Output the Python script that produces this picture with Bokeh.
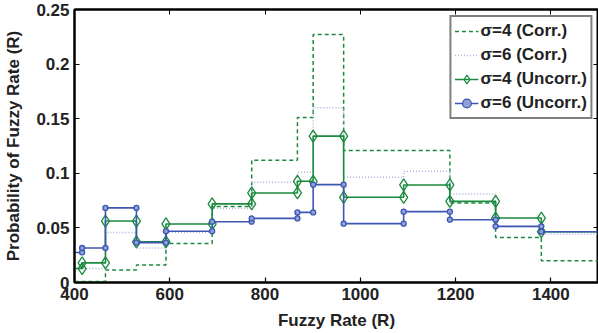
from bokeh.plotting import figure
from bokeh.models import (LinearAxis, FixedTicker, CustomJSTickFormatter, Legend, LegendItem, Range1d)
from bokeh.embed import file_html
from bokeh.resources import INLINE

# Bin edges (Fuzzy Rate, R) where each series steps
edges = [416, 465, 530, 592, 689, 772, 868, 901, 965, 1091, 1188, 1284, 1380]

# Probability values per interval (one more than edges): left of first edge ... right of last edge
s4_corr = [0.001, 0.001, 0.0114, 0.016, 0.0358, 0.0695, 0.112, 0.151, 0.227, 0.1208, 0.1208, 0.0728, 0.0413, 0.0199]
s6_corr = [0.0128, 0.0128, 0.0459, 0.0316, 0.046, 0.068, 0.0917, 0.101, 0.160, 0.0963, 0.1018, 0.081, 0.051, 0.0444]
s4_uncorr = [0.0128, 0.018, 0.0563, 0.0373, 0.0536, 0.072, 0.082, 0.0927, 0.134, 0.078, 0.0893, 0.0743, 0.059, 0.0465]
s6_uncorr = [0.0275, 0.0316, 0.0683, 0.0365, 0.047, 0.0557, 0.0587, 0.0642, 0.0896, 0.0539, 0.0649, 0.0575, 0.0514, 0.0465]

x_ticks = [400, 600, 800, 1000, 1200, 1400]
y_ticks = [0, 0.05, 0.1, 0.15, 0.2, 0.25]
X_MIN, X_MAX = 400, 1500
Y_MIN, Y_MAX = 0, 0.25

GREEN = "#1b8a3e"
BLUE = "#3d56b2"
LAV = "#aab2de"
FONT = "Liberation Sans"

p = figure(width=598, height=333, output_backend="svg", toolbar_location=None,
           x_range=Range1d(X_MIN, X_MAX), y_range=Range1d(Y_MIN, Y_MAX),
           min_border_left=74, min_border_right=0, min_border_top=9, min_border_bottom=51)
p.grid.visible = False
p.outline_line_color = "black"
p.outline_line_width = 2
p.background_fill_color = "white"
p.border_fill_color = "white"


def step_xy(vals):
    xs = [X_MIN] + edges + [X_MAX]
    ys = list(vals) + [vals[-1]]
    return xs, ys


def marker_xy(vals):
    mx, my = [], []
    for i, e in enumerate(edges):
        mx += [e, e]
        my += [vals[i], vals[i + 1]]
    return mx, my


xs, ys = step_xy(s4_corr)
r1 = p.step(xs, ys, mode="after", line_color=GREEN, line_width=1.5, line_dash="4 3")
xs, ys = step_xy(s6_corr)
r2 = p.step(xs, ys, mode="after", line_color=LAV, line_width=1.5, line_dash="1 2")
xs, ys = step_xy(s4_uncorr)
r3 = p.step(xs, ys, mode="after", line_color=GREEN, line_width=1.6)
mx, my = marker_xy(s4_uncorr)
r3m = p.scatter(mx, my, marker="diamond", size=12, line_color=GREEN, line_width=1.3, fill_color=None)
xs, ys = step_xy(s6_uncorr)
r4 = p.step(xs, ys, mode="after", line_color=BLUE, line_width=1.6)
mx, my = marker_xy(s6_uncorr)
r4m = p.scatter(mx, my, marker="circle", size=5, line_color=BLUE, line_width=1.3, fill_color="#8fa0d8")

for ax in (p.xaxis[0], p.yaxis[0]):
    ax.axis_line_width = 2
    ax.axis_line_color = "black"
    ax.major_tick_in = 5
    ax.major_tick_out = 0
    ax.major_tick_line_width = 1.2
    ax.minor_tick_line_color = None
    ax.major_label_text_font = FONT
    ax.major_label_text_font_style = "bold"
    ax.major_label_text_font_size = "17px"
    ax.major_label_text_color = "#222222"
    ax.axis_label_text_font = FONT
    ax.axis_label_text_font_style = "bold"
    ax.axis_label_text_font_size = "17px"
    ax.axis_label_text_color = "#222222"

p.xaxis[0].ticker = FixedTicker(ticks=x_ticks)
p.yaxis[0].ticker = FixedTicker(ticks=y_ticks)
p.yaxis[0].formatter = CustomJSTickFormatter(code="return String(Math.round(tick*100)/100);")
p.xaxis[0].axis_label = "Fuzzy Rate (R)"
p.yaxis[0].axis_label = "Probability of Fuzzy Rate (R)"
p.xaxis[0].major_label_standoff = 5
p.xaxis[0].axis_label_standoff = 8
p.yaxis[0].major_label_standoff = 5
p.yaxis[0].axis_label_standoff = 10

top = LinearAxis(ticker=FixedTicker(ticks=x_ticks))
right = LinearAxis(ticker=FixedTicker(ticks=y_ticks))
for ax in (top, right):
    ax.axis_line_width = 2
    ax.major_tick_in = 5
    ax.major_tick_out = 0
    ax.minor_tick_line_color = None
    ax.formatter = CustomJSTickFormatter(code="return '';")
    ax.major_label_standoff = 0
p.add_layout(top, "above")
p.add_layout(right, "right")

legend = Legend(items=[
    LegendItem(label="σ=4 (Corr.)", renderers=[r1]),
    LegendItem(label="σ=6 (Corr.)", renderers=[r2]),
    LegendItem(label="σ=4 (Uncorr.)", renderers=[r3, r3m]),
    LegendItem(label="σ=6 (Uncorr.)", renderers=[r4, r4m]),
], location="top_right")
legend.margin = 6
legend.padding = 3
legend.spacing = 2
legend.label_height = 22
legend.glyph_height = 22
legend.glyph_width = 24
legend.label_standoff = 2
legend.label_text_font = FONT
legend.label_text_font_style = "bold"
legend.label_text_font_size = "17px"
legend.label_text_color = "#222222"
legend.border_line_color = "black"
legend.border_line_width = 2
legend.background_fill_alpha = 1
p.add_layout(legend, "center")

open("out.html", "w").write(file_html(p, INLINE))
